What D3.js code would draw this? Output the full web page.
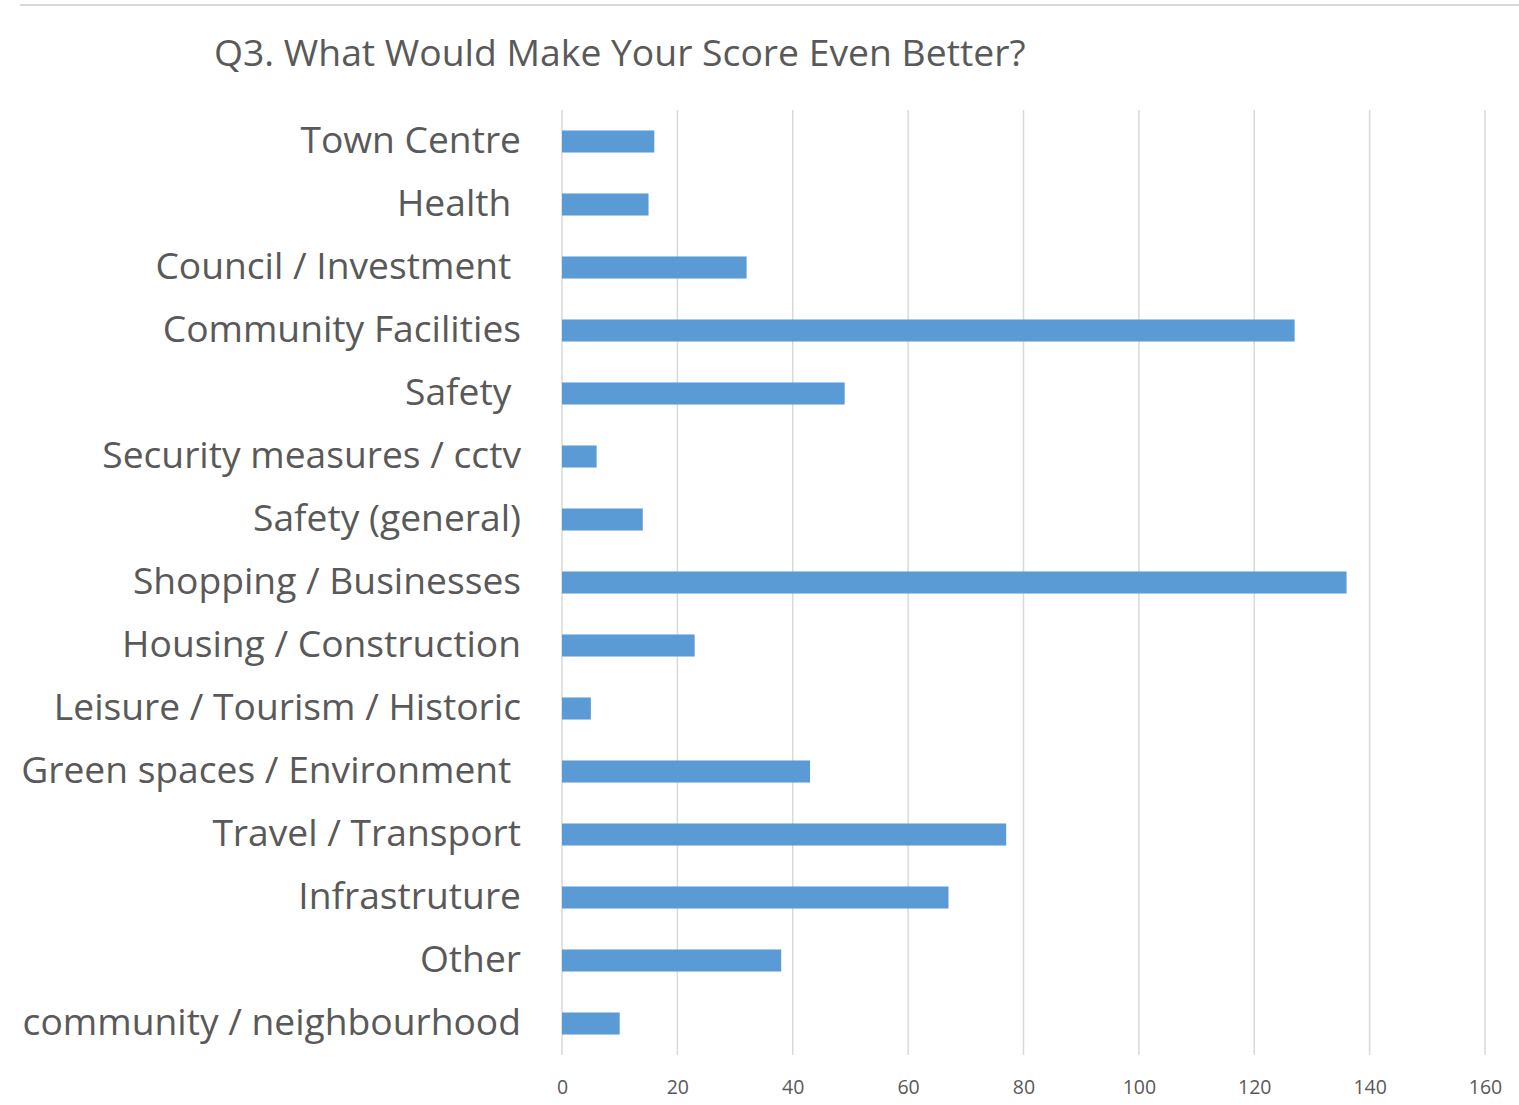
<!DOCTYPE html>
<html><head><meta charset="utf-8">
<script src="https://cdn.jsdelivr.net/npm/d3@7"></script>
<style>body{margin:0;background:#fff;} text{font-family:"Open Sans",sans-serif;}</style>
</head><body>
<svg id="c" width="1519" height="1105"></svg>
<script>
const categories = ["Town Centre","Health ","Council / Investment ","Community Facilities","Safety ","Security measures / cctv","Safety (general)","Shopping / Businesses","Housing / Construction","Leisure / Tourism / Historic","Green spaces / Environment ","Travel / Transport","Infrastruture","Other","community / neighbourhood"];
const values = [16,15,32,127,49,6,14,136,23,5,43,77,67,38,10];
const xTicks = [0,20,40,60,80,100,120,140,160];
const title = "Q3. What Would Make Your Score Even Better?";

const svg = d3.select("#c");
const m = {left:562, right:1485, top:110, bottom:1055};
const x = d3.scaleLinear().domain([0,160]).range([m.left,m.right]);
const y = d3.scaleBand().domain(categories).range([m.top,m.bottom]).paddingInner(0.65).paddingOuter(0.325);

svg.append("line").attr("x1",20).attr("x2",1519).attr("y1",5).attr("y2",5).attr("stroke","#d9d9d9").attr("stroke-width",2);

svg.append("text").attr("x",214).attr("y",66).attr("fill","#595959").attr("font-size",37.3).text(title);

const grid = svg.append("g");
grid.selectAll("line").data(xTicks).join("line")
  .attr("x1",d=>x(d)).attr("x2",d=>x(d)).attr("y1",m.top).attr("y2",m.bottom)
  .attr("stroke","#d9d9d9").attr("stroke-width",1.5);

const xAxis = svg.append("g").attr("transform",`translate(0,${m.bottom})`)
  .call(d3.axisBottom(x).tickValues(xTicks).tickSize(0).tickPadding(25));
xAxis.select(".domain").remove();
xAxis.selectAll("text").attr("fill","#595959").attr("font-size",19.5).style("font-family","'Open Sans',sans-serif");

svg.append("g").selectAll("rect").data(values).join("rect")
  .attr("x",x(0)).attr("y",(d,i)=>y(categories[i]))
  .attr("width",d=>x(d)-x(0)).attr("height",y.bandwidth())
  .attr("fill","#5b9bd5");

svg.append("g").selectAll("text").data(categories).join("text")
  .attr("x",521).attr("y",d=>y(d)+y.bandwidth()/2).attr("dy","0.3em")
  .attr("text-anchor","end").attr("fill","#595959").attr("font-size",37.2)
  .style("white-space","pre").attr("xml:space","preserve")
  .text(d=>d);
</script>
</body></html>
